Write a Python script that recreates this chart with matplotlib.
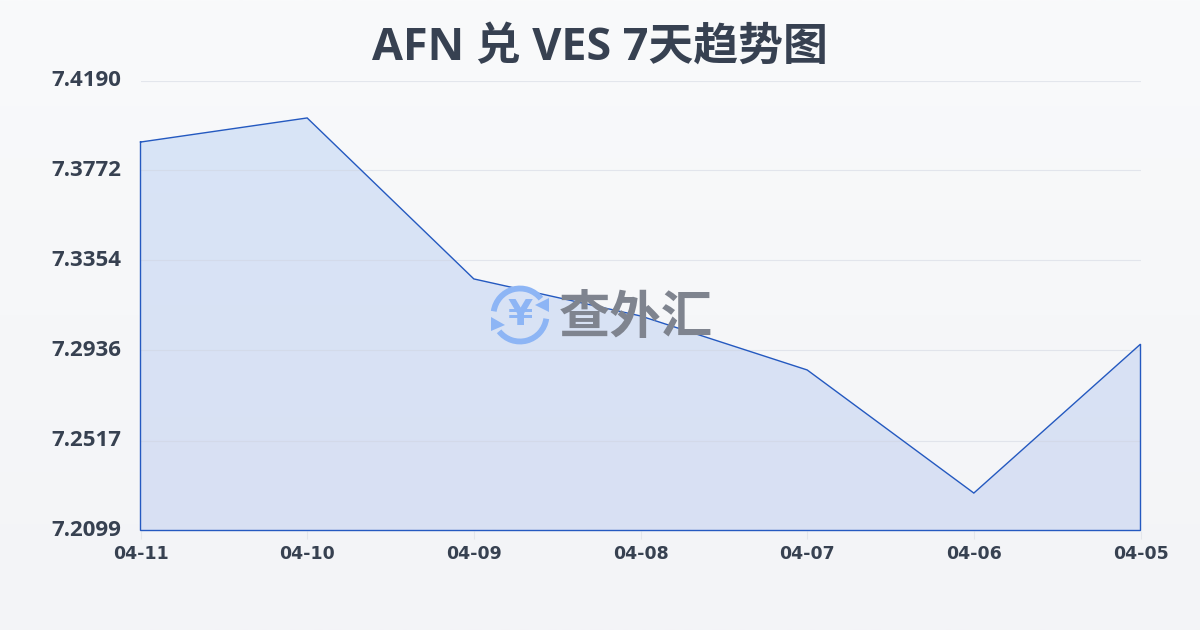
import numpy as np
import matplotlib
matplotlib.use("Agg")
import matplotlib.pyplot as plt
from matplotlib.patches import Arc, Polygon
from matplotlib.colors import LinearSegmentedColormap
from matplotlib.transforms import ScaledTranslation

plt.rcParams['font.family'] = ['Open Sans', 'Noto Sans CJK SC', 'DejaVu Sans']

# data
dates = ["04-11", "04-10", "04-09", "04-08", "04-07", "04-06", "04-05"]
rates = [7.3904, 7.4016, 7.3268, 7.3096, 7.2845, 7.2273, 7.2965]
y_ticks = [7.4190, 7.3772, 7.3354, 7.2936, 7.2517, 7.2099]
title = "AFN 兑 VES 7天趋势图"

text_color = "#374151"
line_color = "#2459c0"

fig = plt.figure(figsize=(12, 6.3), dpi=100)

# page background gradient
bg = fig.add_axes([0, 0, 1, 1], zorder=0)
bg.axis("off")
bg_cmap = LinearSegmentedColormap.from_list("bg", ["#f9fafb", "#f3f4f7"])
bg.imshow(np.linspace(0, 1, 256).reshape(-1, 1), aspect="auto", cmap=bg_cmap)

# main chart
ax = fig.add_axes([140.5 / 1200, 1 - 530.5 / 630, 1000 / 1200, 450 / 630], zorder=1)
ax.patch.set_alpha(0)
x = np.arange(len(dates))
ax.set_xlim(0, len(dates) - 1)
ax.set_ylim(y_ticks[-1], y_ticks[0])

ax.set_yticks(y_ticks)
ax.set_yticklabels([f"{v:.4f}" for v in y_ticks])
ax.set_xticks(x)
ax.set_xticklabels(dates)
ax.tick_params(axis="y", length=0, pad=14, labelsize=16, labelcolor=text_color)
ax.tick_params(axis="x", length=6, width=0.8, color="#e3e6eb", pad=4.5, labelsize=12.5, labelcolor=text_color)
up = ScaledTranslation(0, 2 / 72, fig.dpi_scale_trans)
for lab in ax.get_yticklabels():
    lab.set_fontweight("bold")
    lab.set_transform(lab.get_transform() + up)
for lab in ax.get_xticklabels():
    lab.set_fontweight("bold")
    lab.set_family("DejaVu Sans")
ax.grid(axis="y", color="#cfd4e0", alpha=0.5, lw=0.8, zorder=3)
ax.set_axisbelow(False)
for s in ax.spines.values():
    s.set_visible(False)

# area with vertical gradient
area = ax.fill_between(x, rates, y_ticks[-1], color="none", lw=0)
fill_cmap = LinearSegmentedColormap.from_list("fill", ["#d8e5f7", "#d9e0f3"])
grad = ax.imshow(np.linspace(0, 1, 256).reshape(-1, 1), aspect="auto", cmap=fill_cmap,
                 extent=[x[0], x[-1], y_ticks[-1], y_ticks[0]], zorder=1)
grad.set_clip_path(area.get_paths()[0], transform=ax.transData)

# outline goes all the way round the area
ax.plot(list(x) + [x[-1], x[0], x[0]],
        rates + [y_ticks[-1], y_ticks[-1], rates[0]],
        color=line_color, lw=1.0, zorder=6, clip_on=False, solid_joinstyle="miter")

# watermark, pixel coordinates
wm = fig.add_axes([0, 0, 1, 1], zorder=2)
wm.axis("off")
wm.set_xlim(0, 1200)
wm.set_ylim(630, 0)
logo = "#8db5f5"
wm.add_patch(Arc((520, 315), 53, 53, theta1=188, theta2=322, color=logo, lw=4.2))
wm.add_patch(Arc((520, 315), 53, 53, theta1=8, theta2=142, color=logo, lw=4.2))
wm.add_patch(Polygon([[549, 298], [549, 312], [535, 305]], color=logo, lw=0))
wm.add_patch(Polygon([[491, 317], [491, 331], [505, 325]], color=logo, lw=0))
wm.text(520, 315, "¥", color=logo, fontsize=26, fontweight="bold", ha="center", va="center",
        family=["DejaVu Sans"])
wm.text(636, 318, "查外汇", color="#7f848f", fontsize=37, fontweight="black", ha="center", va="center",
        family=["Noto Sans CJK SC"])

# title
fig.text(0.5, 1 - 48 / 630, title, ha="center", va="center", fontsize=32.3, fontweight="bold",
         color=text_color, zorder=5)

fig.savefig("out.png", dpi=100)
